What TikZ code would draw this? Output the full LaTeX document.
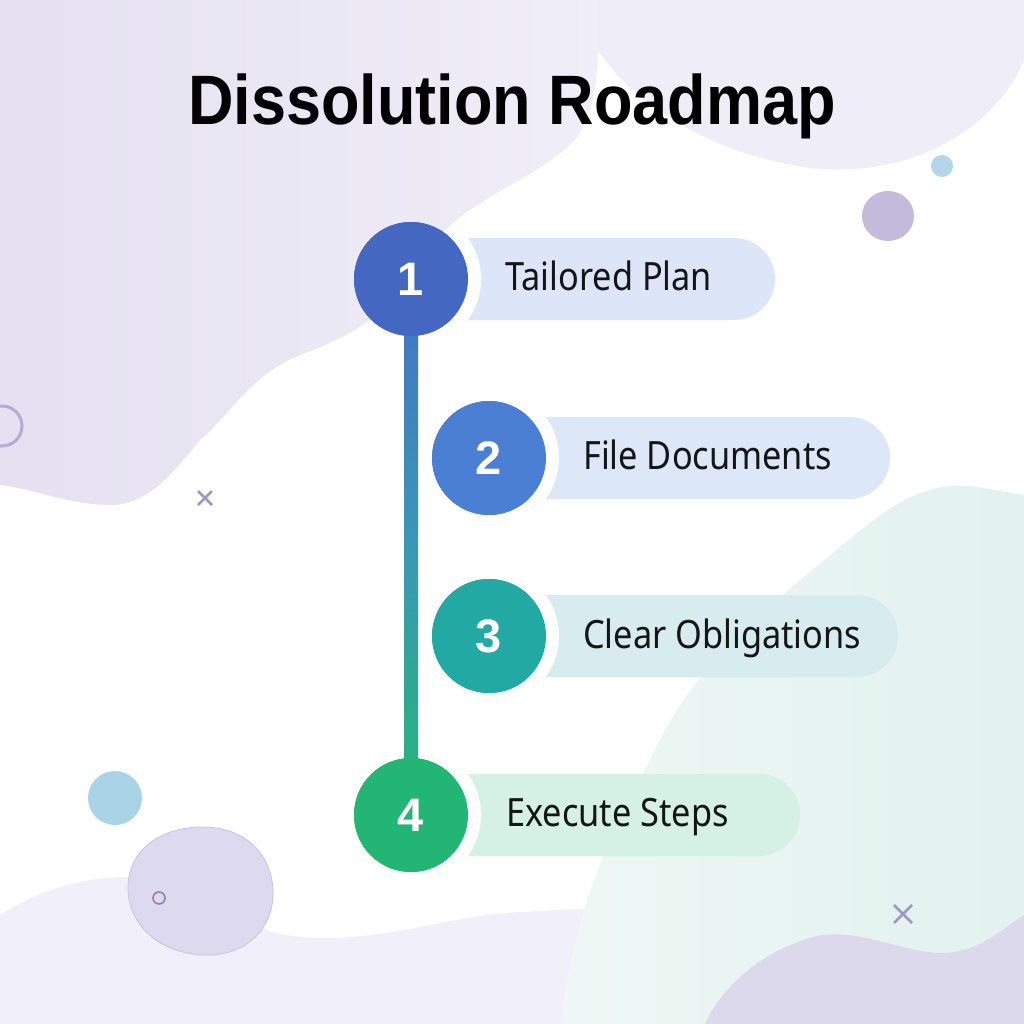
\documentclass[tikz,border=0pt]{standalone}
\usepackage{fontspec}
\setmainfont{Noto Sans}
\newfontfamily\titlefont{Liberation Sans}[FakeStretch=0.9]
\newfontfamily\labelfont{Noto Sans}[FakeStretch=0.88]
\newfontfamily\numfont{Liberation Sans}
\definecolor{washA}{HTML}{E5E1F1}
\definecolor{washB}{HTML}{F0EEF8}
\definecolor{blobTR}{HTML}{EFEDF7}
\definecolor{mintA}{HTML}{EEF7F5}
\definecolor{mintB}{HTML}{E2F2EE}
\definecolor{lavWave}{HTML}{F1EFF9}
\definecolor{lavDark}{HTML}{DCD9EC}
\definecolor{ringCol}{HTML}{B3ACD3}
\definecolor{xCol}{HTML}{9F97C4}
\definecolor{dotBlue}{HTML}{A9D3E6}
\definecolor{dotBlueB}{HTML}{B3D6EA}
\definecolor{dotLav}{HTML}{C3BBDC}
\definecolor{blobLav}{HTML}{DDD9EF}
\definecolor{blobEdge}{HTML}{C9C3E1}
\definecolor{cOne}{HTML}{4468C2}
\definecolor{cTwo}{HTML}{4A7FD4}
\definecolor{cThree}{HTML}{22A9A3}
\definecolor{cFour}{HTML}{22B573}
\definecolor{pOne}{HTML}{DCE6F8}
\definecolor{pTwo}{HTML}{DCE7F8}
\definecolor{pThree}{HTML}{D6ECEE}
\definecolor{pFour}{HTML}{D4F1E4}
\definecolor{lineTop}{HTML}{4572C8}
\definecolor{lineMid}{HTML}{3A98B5}
\definecolor{lineBot}{HTML}{27B777}
\definecolor{txt}{HTML}{151515}
\begin{document}
\begin{tikzpicture}[x=1pt,y=-1pt,
  stepcircle/.style={circle,minimum size=114pt,inner sep=0pt,text=white,
    font=\numfont\bfseries\fontsize{47}{50}\selectfont},
  lbl/.style={anchor=base west,inner sep=0pt,text=txt,
    font=\labelfont\fontsize{39}{44}\selectfont},
  xmark/.style={draw=xCol,line width=2.6pt},
]
\useasboundingbox (0,0) rectangle (1024,1024);
\fill[white] (0,0) rectangle (1024,1024);
% top right blob
\fill[blobTR] (575,0) .. controls (590,70) and (680,150) .. (810,168)
  .. controls (920,180) and (1000,120) .. (1024,60) -- (1024,0) -- cycle;
% top-left wash
\shade[left color=washA,right color=washB]
  (0,0) -- (598,0) .. controls (600,60) and (598,110) .. (575,140)
  .. controls (530,185) and (460,200) .. (430,250)
  .. controls (400,300) and (370,330) .. (300,355)
  .. controls (250,375) and (230,415) .. (200,440)
  .. controls (175,470) and (150,505) .. (110,505)
  .. controls (70,505) and (30,488) .. (0,485) -- cycle;
% bottom lavender wave
\fill[lavWave]
  (0,915) .. controls (40,890) and (80,878) .. (125,877)
  .. controls (190,877) and (230,930) .. (300,937)
  .. controls (380,944) and (450,915) .. (520,912)
  .. controls (600,908) and (660,905) .. (720,900) -- (720,1024) -- (0,1024) -- cycle;
% mint region
\shade[left color=mintA,right color=mintB]
  (1024,495) .. controls (990,490) and (960,480) .. (930,490)
  .. controls (890,500) and (850,540) .. (800,580)
  .. controls (740,630) and (690,680) .. (660,740)
  .. controls (620,820) and (580,880) .. (560,1024) -- (1024,1024) -- cycle;
% bottom right dark lavender
\fill[lavDark] (705,1024) .. controls (720,990) and (760,950) .. (817,936)
  .. controls (860,928) and (900,952) .. (940,953)
  .. controls (980,953) and (1000,930) .. (1024,915) -- (1024,1024) -- cycle;
% decorations
\draw[ringCol,line width=3pt] (2,426) circle[radius=20];
\draw[xmark] (198,491) -- (212,505) (198,505) -- (212,491);
\draw[xmark] (894,905) -- (912,923) (894,923) -- (912,905);
\fill[dotBlue] (115,798) circle[radius=27];
\fill[dotBlueB] (942,166) circle[radius=11];
\fill[dotLav] (888,216) ellipse[x radius=26,y radius=25];
\draw[blobEdge,fill=blobLav,line width=0.8pt] (200,827) .. controls (250,826) and (274,860) .. (273,895)
  .. controls (272,930) and (245,956) .. (205,955)
  .. controls (160,954) and (128,925) .. (128,888)
  .. controls (128,850) and (160,828) .. (200,827) -- cycle;
\draw[ringCol!70!violet!60!gray,line width=1.5pt] (159,898) circle[radius=6];
% circle nodes
\node[stepcircle,fill=cOne] (c1) at (411,279) {};
\node[stepcircle,fill=cTwo] (c2) at (489,458) {};
\node[stepcircle,fill=cThree] (c3) at (489,636) {};
\node[stepcircle,fill=cFour] (c4) at (411,815) {};
% vertical connector
\shade[top color=lineTop,bottom color=lineBot,middle color=lineMid]
  ([xshift=-7pt]c1.center) rectangle ([xshift=7pt]c4.center);
% pills with white halos
\foreach \c/\cx/\cy/\r/\col in {c1/411/279/775/pOne,c2/489/458/890/pTwo,c3/489/636/898/pThree,c4/411/815/800/pFour}{
  \fill[\col,rounded corners=41pt] (\cx-20,\cy-41) rectangle (\r,\cy+41);
  \begin{scope}
    \clip[rounded corners=41pt] (\cx-20,\cy-41) rectangle (\r,\cy+41);
    \fill[white] (\c.center) circle[radius=70];
  \end{scope}
}
% circles redrawn on top with numbers
\node[stepcircle,fill=cOne] (n1) at (c1) {1};
\node[stepcircle,fill=cTwo] (n2) at (c2) {2};
\node[stepcircle,fill=cThree] (n3) at (c3) {3};
\node[stepcircle,fill=cFour] (n4) at (c4) {4};
% labels
\node[lbl] (t1) at (505,290) {Tailored Plan};
\node[lbl] (t2) at (583,469) {File Documents};
\node[lbl] (t3) at (583,648) {Clear Obligations};
\node[lbl] (t4) at (506,826) {Execute Steps};
% title
\node[anchor=base,inner sep=0pt,text=black,font=\titlefont\bfseries\fontsize{70}{80}\selectfont] (title) at (512,125) {Dissolution Roadmap};
\end{tikzpicture}
\end{document}
